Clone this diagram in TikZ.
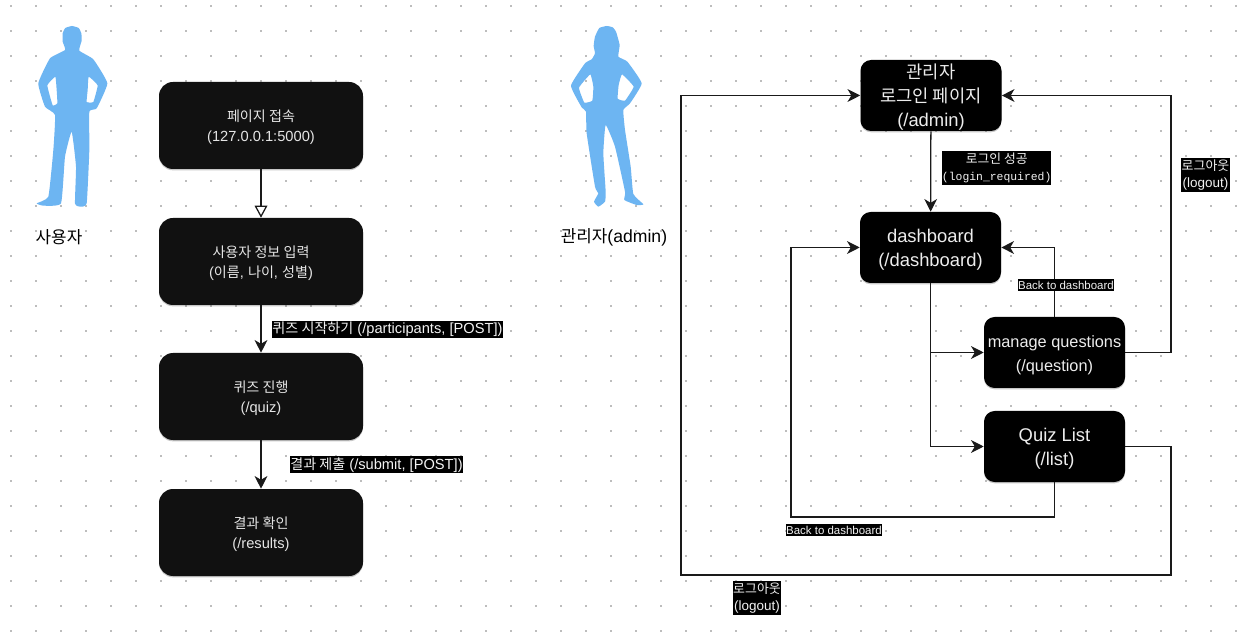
\documentclass[tikz,border=0pt]{standalone}
\usepackage{fontspec}
\setmainfont{Liberation Sans}
\setmonofont{Liberation Mono}
\newfontfamily\krf[Scale=0.96]{Noto Sans CJK KR}
\newcommand{\K}[1]{{\krf #1}}
\newcommand{\fsz}[2]{\fontsize{#1pt}{#2pt}\selectfont}
% keeps the size of the box for centring, but moves its contents down
\newcommand{\Low}[2]{\raisebox{-#1}[\height][\depth]{\begin{tabular}{@{}c@{}}#2\end{tabular}}}
\usetikzlibrary{arrows.meta,shadows}
\definecolor{dotc}{HTML}{BDBDBD}
\definecolor{boxl}{HTML}{111111}
\definecolor{figc}{HTML}{6DB5F2}
\definecolor{linec}{HTML}{1A1A1A}
\tikzset{
  softshadow/.style={drop shadow={shadow xshift=0pt,shadow yshift=-1pt,opacity=.22,fill=black}},
  leftbox/.style={fill=boxl,text=white!90!black,rounded corners=10.5pt,minimum width=153pt,minimum height=65.25pt,inner sep=0pt,font=\fsz{11}{14.85},softshadow},
  rightbox/.style={fill=black,text=white!93!black,rounded corners=8pt,minimum width=105.75pt,minimum height=53.25pt,inner sep=0pt,font=\fsz{13.8}{17.75},softshadow},
  tag/.style={fill=black,text=white!95!black,inner xsep=0.5pt,inner ysep=1pt,align=center},
  caption/.style={text=black,inner sep=0pt,font=\fsz{13.2}{15}},
  conn/.style={draw=linec,line width=0.95pt,-{Stealth[length=9.5pt,width=9.5pt,inset=2.8pt]}},
  openconn/.style={draw=linec,line width=0.95pt,-{Triangle[open,fill=white,length=9pt,width=9.5pt]}},
  figure/.style={fill=figc,even odd rule}
}
\begin{document}
\begin{tikzpicture}[x=0.75pt,y=-0.75pt]
\useasboundingbox (0,0) rectangle (1260,641);
\fill[white] (0,0) rectangle (1260,641);
\foreach \i in {0,...,49} \foreach \j in {0,...,25}
  \fill[dotc] ({11+25*\i-1},{6+25*\j-1}) rectangle ++(2,2);

% figures
\begin{scope}[shift={(0,0)},x=0.25pt,y=-0.25pt]
\fill[figure] plot[smooth cycle,tension=.25] coordinates {(216,78) (196,84) (188,100) (188,125) (195,150) (150,175) (115,250) (135,320) (165,345) (160,450) (145,590) (110,610) (130,617) (183,610) (195,470) (215,395) (228,500) (225,610) (240,620) (260,610) (268,450) (268,335) (290,325) (322,250) (280,178) (238,152) (245,122) (244,100) (236,84)}
 plot[smooth cycle,tension=.2] coordinates {(166,230) (142,256) (158,316) (172,310) (170,270)}
 plot[smooth cycle,tension=.2] coordinates {(266,230) (293,256) (280,306) (260,306) (263,270)};
\end{scope}
\begin{scope}[shift={(540,20)},x=0.25pt,y=-0.25pt]
\fill[figure] plot[smooth cycle,tension=.25] coordinates {(200,18) (178,24) (165,50) (161,78) (165,100) (155,118) (135,130) (93,197) (125,262) (138,275) (140,340) (165,500) (175,520) (162,545) (175,560) (195,545) (197,515) (190,400) (197,315) (225,380) (255,515) (253,540) (290,555) (310,553) (280,522) (272,440) (255,330) (250,270) (270,250) (305,190) (262,125) (235,110) (239,75) (228,35) (218,22)}
 plot[smooth cycle,tension=.2] coordinates {(151,163) (117,203) (133,248) (157,242) (160,200)}
 plot[smooth cycle,tension=.2] coordinates {(246,163) (281,200) (255,242) (233,236) (236,195)};
\end{scope}

\node[caption] (cu) at (59,237.5) {\K{사용자}};
\node[caption] (ca) at (614,237) {\K{관리자}(admin)};

% left flow
\node[leftbox] (page) at (261,125.5) {\Low{1.6pt}{\K{페이지 접속}\\(127.0.0.1:5000)}};
\node[leftbox] (info) at (261,261.5) {\Low{1.6pt}{\K{사용자 정보 입력}\\(\K{이름}, \K{나이}, \K{성별})}};
\node[leftbox] (quiz) at (261,396.5) {\Low{1.6pt}{\K{퀴즈 진행}\\(/quiz)}};
\node[leftbox] (res) at (261,532.5) {\Low{1.6pt}{\K{결과 확인}\\(/results)}};

% right flow
\node[rightbox] (adm) at (931,95.5) {\Low{1.6pt}{\K{관리자}\\\K{로그인 페이지}\\(/admin)}};
\node[rightbox] (dash) at (930.5,247.5) {\Low{1.6pt}{dashboard\\(/dashboard)}};
\node[rightbox,font=\fsz{12.25}{17.75}] (man) at (1054.5,352.5) {\Low{1.6pt}{manage questions\\(/question)}};
\node[rightbox] (lst) at (1054.5,446.5) {\Low{1.6pt}{Quiz List\\(/list)}};

\coordinate (r1) at (1171,95.5);
\coordinate (r2) at (1171,575);
\coordinate (l2) at (681,575);
\coordinate (b1) at (1054.5,517);
\coordinate (b2) at (791,517);

\draw[openconn] (page) -- (info);
\draw[conn] (info) -- (quiz);
\draw[conn] (quiz) -- (res);
\draw[conn] (adm) -- (dash);
\draw[conn] (dash.south) |- (man.west);
\draw[conn] (dash.south) |- (lst.west);
\draw[conn] (man.north) |- (dash.east);
\draw[conn] (man.east) -| (r1) -- (adm.east);
\draw[conn] (lst.south) -- (b1) -- (b2) |- (dash.west);
\draw[conn] (lst.east) -| (r2) -- (l2) |- (adm.west);

% labels
\node[tag,font=\fsz{11}{14}] (t1) at (387.5,329.3) {\K{퀴즈 시작하기} (/participants, [POST])};
\node[tag,font=\fsz{11}{14}] (t2) at (376.5,464.7) {\K{결과 제출} (/submit, [POST])};
\node[tag,font=\fsz{10}{13.2},inner xsep=0pt] (t3) at (996.7,168) {\K{로그인 성공}\\{\ttfamily\fsz{8.55}{13.2}(login\_required)}};
\node[tag,font=\fsz{10.1}{13.2}] (t4) at (1205.5,175) {\K{로그아웃}\\(logout)};
\node[tag,font=\fsz{8.6}{10.5}] (t5) at (1066,285) {Back to dashboard};
\node[tag,font=\fsz{8.6}{10.5}] (t6) at (834,530) {Back to dashboard};
\node[tag,font=\fsz{10.1}{13.2}] (t7) at (757,598) {\K{로그아웃}\\(logout)};
\end{tikzpicture}
\end{document}
